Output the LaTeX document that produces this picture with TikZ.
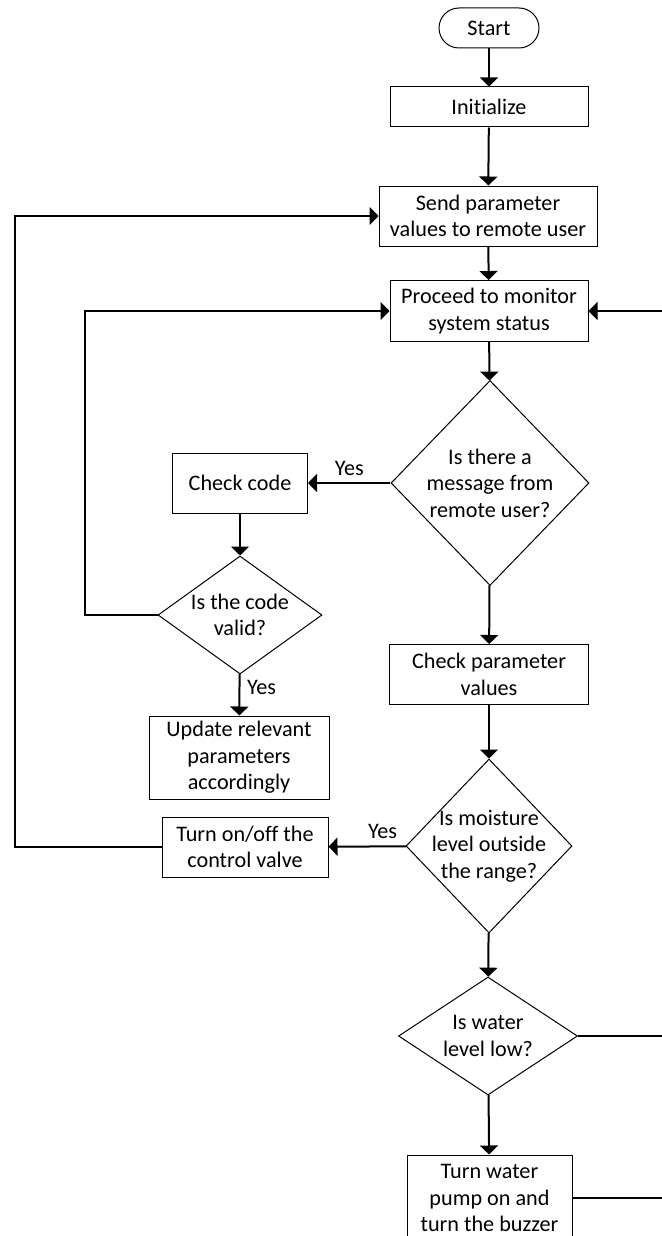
\documentclass[tikz,border=0pt]{standalone}
\usepackage{fontspec}
\setmainfont{Carlito}[Ligatures=NoCommon]
\usetikzlibrary{shapes.geometric,arrows.meta}

\begin{document}
\begin{tikzpicture}[x=0.5pt,y=-0.5pt]
      \path [use as bounding box, fill=white] (0,0) rectangle (662,1236);
      \clip (0,0) rectangle (662,1236);

      \begin{scope}[every node/.style={rectangle, draw, line width=0.5pt, inner sep=2pt, align=center, font=\fontsize{11.1}{13.3}\selectfont}]
        \node [rounded corners=10pt, minimum width=50pt, minimum height=20pt] (0) at (489,28) {Start};
        \node [minimum width=99pt, minimum height=20pt] (1) at (489,107) {Initialize};
        \node [minimum width=109pt, minimum height=30pt] (2) at (488,216) {Send parameter\\values to remote user};
        \node [minimum width=99pt, minimum height=30.5pt] (3) at (489,311) {Proceed to monitor\\system status};
        \node [diamond, inner sep=0pt, aspect=1, minimum width=99pt, minimum height=102.5pt] (4) at (490,483) {Is there a\\message from\\remote user?};
        \node [minimum width=67.5pt, minimum height=30pt] (5) at (240,483) {Check code};
        \node [diamond, inner sep=0pt, aspect=1.4, minimum width=82pt, minimum height=59pt] (6) at (240,615) {Is the code\\valid?};
        \node [minimum width=90pt, minimum height=41.5pt] (7) at (239,757.5) {Update relevant\\parameters\\accordingly};
        \node [minimum width=99.5pt, minimum height=30pt] (8) at (489,674.5) {Check parameter\\values};
        \node [diamond, inner sep=-4pt, aspect=0.95, minimum width=83pt, minimum height=87pt] (9) at (489,846) {Is moisture\\level outside\\the range?};
        \node [minimum width=83pt, minimum height=30pt] (10) at (245,847) {Turn on/off the\\control valve};
        \node [diamond, inner sep=0pt, aspect=1.5, minimum width=89.5pt, minimum height=59pt] (11) at (488,1036) {Is water\\level low?};
        \node [minimum width=82.5pt, minimum height=43pt] (12) at (489.5,1198) {Turn water\\pump on and\\turn the buzzer};
      \end{scope}

      \coordinate (r0) at (662,311);
      \coordinate (r1) at (662,1036);

      \begin{scope}[->, >={Triangle[width=9pt,length=4.5pt]}, line width=1pt, every node/.style={font=\fontsize{11.1}{13.3}\selectfont}]
        \draw (0) to (1);
        \draw (1) to (2);
        \draw (2) to (3);
        \draw (3) to (4);
        \draw (4) to node [above] {Yes} (5);
        \draw (5) to (6);
        \draw (6) to node [right, pos=0.33] {Yes} (7);
        \draw (6.west) -- ++(-73,0) |- (3.west);
        \draw (r0) to (3.east);
        \draw (4) to (8);
        \draw (8) to (9);
        \draw (9) to node [above, pos=0.3] {Yes} (10);
        \draw (10.west) -- ++(-147,0) |- (2.west);
        \draw (9) to (11);
        \draw (11) to (12);
        \draw [-] (11.east) to (r1);
        \draw [-] (12.east) to (12.east -| r1);
      \end{scope}
   \end{tikzpicture}
\end{document}
